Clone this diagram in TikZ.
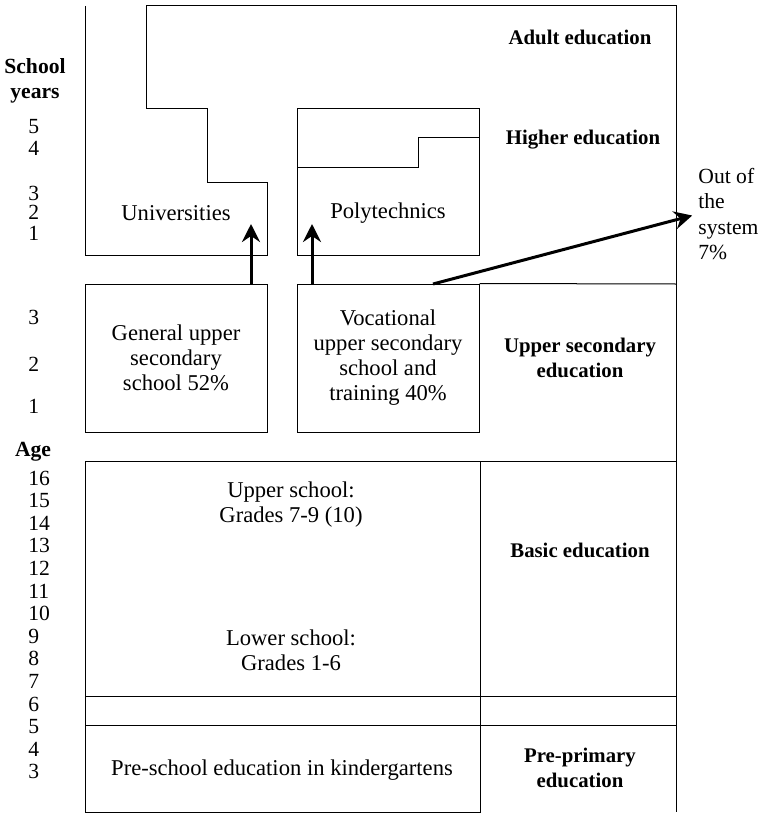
\documentclass[tikz,border=0pt]{standalone}
\usepackage{fontspec}
\setmainfont{Liberation Serif}
\usetikzlibrary{arrows.meta}
\tikzstyle{txt}=[font=\fontsize{11.3}{12.5}\selectfont,align=center,inner sep=0pt]
\tikzstyle{hd}=[txt,font=\fontsize{10.4}{12.3}\selectfont\bfseries]
\tikzstyle{num}=[txt,font=\fontsize{10.8}{12.3}\selectfont,anchor=west]
\tikzstyle{ln}=[line width=0.5pt]
\tikzstyle{box}=[draw,line width=0.5pt,txt,minimum width=91pt,minimum height=74pt]
\tikzstyle{arr}=[line width=1.5pt,-{Stealth[length=9pt,width=9pt,inset=3pt]}]

\begin{document}
\begin{tikzpicture}[x=0.5pt,y=-0.5pt]
\useasboundingbox (0,0) rectangle (762,813);
% adult education and universities
\draw[ln] (85,6) -- (85,255) -- (267,255) -- (267,182) -- (207,182) -- (207,109) -- (146,109) -- (146,6) -- (676,6) -- (676,812);
% polytechnics
\draw[ln] (297,109) rectangle (479,255);
\draw[ln] (297,167) -- (418,167) -- (418,137) -- (479,137);
% upper secondary
\node[box] (gen) at (176,358) {General upper\\secondary\\school 52\%};
\node[box] (voc) at (388,358) {Vocational\\upper secondary\\school and\\training 40\%};
\draw[ln] (voc.north east) -- (676,284);
% basic and pre-primary
\draw[ln] (676,461) -- (85,461) -- (85,812) -- (480,812) -- (480,461);
\draw[ln] (85,696) -- (676,696);
\draw[ln] (85,725) -- (676,725);

\node[txt] (uni) at (176,213) {Universities};
\node[txt] (poly) at (388,213) {Polytechnics};
\node[txt] (upper) at (291,505) {Upper school:\\Grades 7-9 (10)};
\node[txt] (lower) at (291,650) {Lower school:\\Grades 1-6};
\node[txt] (pre) at (282,770) {Pre-school education in kindergartens};

\node[hd] (adult) at (580,37) {Adult education};
\node[hd] (higher) at (583,140) {Higher education};
\node[hd] (usec) at (580,358) {Upper secondary\\education};
\node[hd] (basic) at (580,550) {Basic education};
\node[hd] (prep) at (580,768) {Pre-primary\\education};
\node[txt,font=\fontsize{10.8}{12.8}\selectfont,align=left,anchor=west] (out) at (698,214) {Out of\\the\\system\\7\%};

% left scale
\node[hd,font=\fontsize{10.8}{12.3}\selectfont\bfseries] (sy) at (35,81) {School\\years};
\node[num] (y5) at (28,127) {5};
\node[num] (y4) at (28,148) {4};
\node[num] (y3) at (28,193) {3};
\node[num] (y2) at (28,212) {2};
\node[num] (y1) at (28,233) {1};
\node[num] (s3) at (28,317) {3};
\node[num] (s2) at (28,364) {2};
\node[num] (s1) at (28,406) {1};
\node[hd,font=\fontsize{10.8}{12.3}\selectfont\bfseries] (age) at (33,452) {Age};
\foreach \a [count=\i from 0] in {16,15,...,3}
  \node[num] (a\a) at (28,478+22.6*\i) {\a};

% arrows
\coordinate (unitip) at (251,224);
\coordinate (polytip) at (312,224);
\coordinate (outstart) at (433,284);
\draw[arr] (gen.north -| unitip) -- (unitip);
\draw[arr] (voc.north -| polytip) -- (polytip);
\draw[arr,shorten >=3pt] (outstart) -- (out.west);
\end{tikzpicture}
\end{document}
